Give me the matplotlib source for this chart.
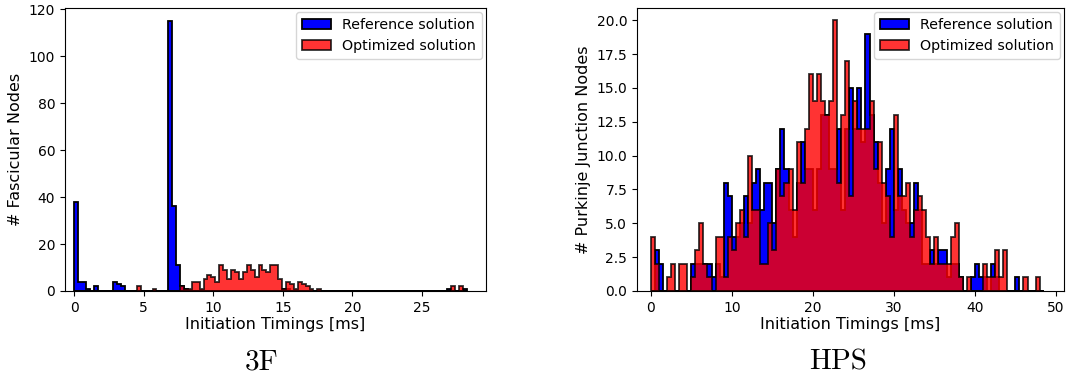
import numpy as np
import matplotlib
matplotlib.use("Agg")
import matplotlib.pyplot as plt

# ---- 3F : fascicular node initiation timings (bin counts) ----
f3_range = (0.0, 28.2)
f3_reference = [
    38, 4, 4, 1, 0, 2, 0, 0, 0, 0,
    4, 3, 2, 0, 0, 0, 0, 0, 0, 0,
    0, 0, 0, 0, 115, 36, 11, 2, 1, 0,
    0, 0, 0, 0, 0, 0, 0, 0, 0, 0,
    0, 0, 0, 0, 0, 0, 0, 0, 0, 0,
    0, 0, 0, 1, 1, 0, 0, 0, 0, 0,
    0, 0, 0, 0, 0, 0, 0, 0, 0, 0,
    0, 0, 0, 0, 0, 0, 0, 0, 0, 0,
    0, 0, 0, 0, 0, 0, 0, 0, 0, 0,
    0, 0, 0, 0, 0, 1, 0, 0, 0, 1,
]
f3_optimized = [
    0, 0, 0, 0, 0, 0, 0, 0, 0, 0,
    0, 0, 0, 0, 0, 0, 2, 0, 0, 0,
    1, 0, 0, 0, 0, 0, 0, 2, 1, 1,
    4, 4, 1, 5, 7, 6, 4, 11, 9, 5,
    9, 8, 5, 8, 11, 9, 6, 11, 9, 8,
    11, 11, 5, 1, 4, 3, 1, 4, 3, 2,
    1, 0, 1, 0, 0, 0, 0, 0, 0, 0,
    0, 0, 0, 0, 0, 0, 0, 0, 0, 0,
    0, 0, 0, 0, 0, 0, 0, 0, 0, 0,
    0, 0, 0, 0, 0, 0, 2, 0, 2, 0,
]

# ---- HPS : Purkinje junction node initiation timings (bin counts) ----
hps_range = (0.0, 48.5)
hps_reference = [
    0, 3, 2, 0, 0, 0, 0, 0, 0, 0,
    2, 2, 2, 2, 2, 1, 2, 1, 8, 7,
    4, 4, 5, 7, 5, 8, 9, 6, 8, 8,
    5, 9, 12, 9, 6, 4, 8, 11, 9, 9,
    6, 9, 13, 13, 9, 9, 12, 6, 12, 15,
    12, 15, 11, 19, 13, 11, 8, 5, 9, 12,
    6, 9, 6, 5, 5, 8, 6, 2, 2, 3,
    2, 3, 3, 1, 2, 2, 1, 0, 0, 1,
    2, 1, 1, 0, 2, 1, 0, 0, 0, 0,
    1, 0, 0, 0, 0, 0, 0,
]
hps_optimized = [
    4, 2, 0, 0, 1, 2, 0, 2, 2, 0,
    1, 3, 5, 2, 1, 0, 4, 4, 1, 4,
    3, 5, 6, 4, 10, 6, 6, 2, 2, 5,
    3, 9, 7, 8, 9, 6, 11, 8, 12, 16,
    14, 16, 14, 13, 14, 20, 8, 13, 17, 7,
    14, 12, 12, 12, 14, 9, 11, 8, 7, 4,
    13, 7, 7, 8, 4, 6, 7, 6, 4, 2,
    4, 2, 2, 2, 4, 5, 1, 0, 1, 0,
    0, 0, 2, 1, 1, 3, 1, 3, 0, 0,
    0, 0, 1, 0, 0, 1, 0,
]

series_labels = ["Reference solution", "Optimized solution"]
x_label = "Initiation Timings [ms]"


def draw_panel(ax, value_range, ref_counts, opt_counts, ylabel):
    ref_counts = np.asarray(ref_counts, dtype=float)
    opt_counts = np.asarray(opt_counts, dtype=float)
    edges = np.linspace(value_range[0], value_range[1], len(ref_counts) + 1)
    centers = 0.5 * (edges[:-1] + edges[1:])
    ax.hist(centers, bins=edges, weights=ref_counts, histtype="stepfilled",
            facecolor="blue", edgecolor="black", linewidth=1.3,
            label=series_labels[0])
    ax.hist(centers, bins=edges, weights=opt_counts, histtype="stepfilled",
            facecolor="red", edgecolor="black", linewidth=1.3, alpha=0.8,
            label=series_labels[1])
    ax.set_xlabel(x_label, fontsize=11.5, labelpad=2)
    ax.set_ylabel(ylabel, fontsize=11.5, labelpad=4)
    ax.tick_params(labelsize=10)
    ax.legend(loc="upper right", fontsize=10.3, framealpha=0.8,
              borderaxespad=0.3)


fig = plt.figure(figsize=(10.66, 3.81), dpi=100)
ax_left = fig.add_axes([65 / 1066, 90 / 381, 421 / 1066, 283 / 381])
ax_right = fig.add_axes([637 / 1066, 90 / 381, 427 / 1066, 283 / 381])

draw_panel(ax_left, f3_range, f3_reference, f3_optimized, "# Fascicular Nodes")
ax_left.set_xlim(-0.65, 29.6)
ax_left.set_ylim(0, 120.5)
ax_left.set_xticks([0, 5, 10, 15, 20, 25])
ax_left.set_yticks([0, 20, 40, 60, 80, 100, 120])

draw_panel(ax_right, hps_range, hps_reference, hps_optimized,
           "# Purkinje Junction Nodes")
ax_right.set_xlim(-1.7, 51.0)
ax_right.set_ylim(0, 20.9)
ax_right.set_xticks([0, 10, 20, 30, 40, 50])
ax_right.set_yticks(np.arange(0, 20.1, 2.5))
ax_right.yaxis.set_major_formatter(matplotlib.ticker.FormatStrFormatter("%.1f"))

fig.text(262 / 1066, 1 - 362 / 381, "3F", ha="center", va="center",
         fontfamily="cmr10", fontsize=21)
fig.text(838 / 1066, 1 - 362 / 381, "HPS", ha="center", va="center",
         fontfamily="cmr10", fontsize=21)

fig.savefig("out.png", dpi=100)
